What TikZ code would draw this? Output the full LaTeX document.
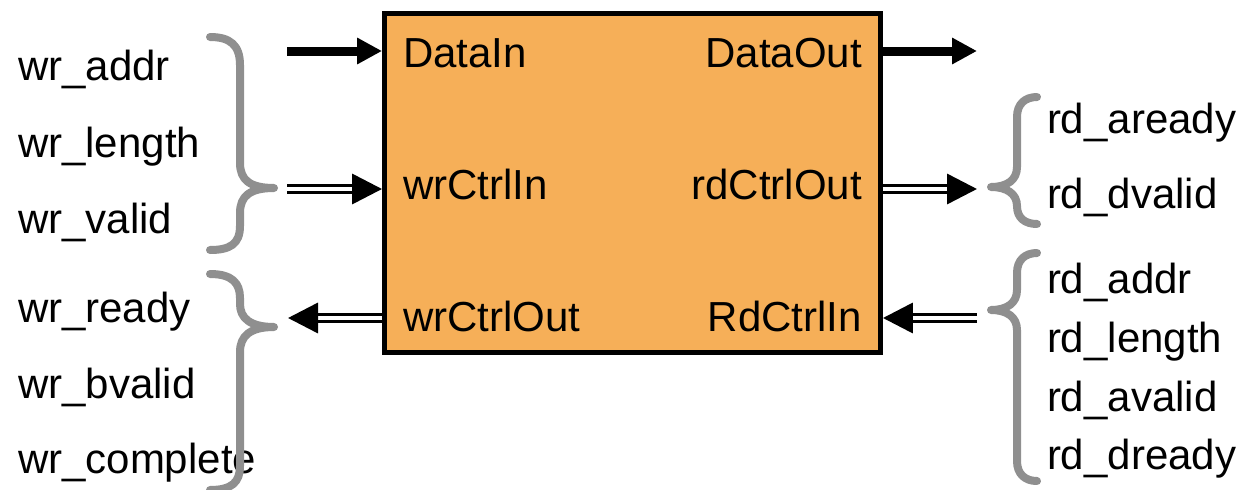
\documentclass[tikz,border=0pt]{standalone}
\usepackage{fontspec}
\setmainfont{Liberation Sans}
\usetikzlibrary{arrows.meta}
\definecolor{blockfill}{HTML}{F6AF58}
\definecolor{bracegray}{HTML}{8F8F8F}
\begin{document}
\begin{tikzpicture}[x=1pt,y=-1pt,
  every node/.style={inner sep=0pt, outer sep=0pt, font=\fontsize{42}{50}\selectfont},
  lbl/.style={anchor=base west},
  rlbl/.style={anchor=base east},
  block/.style={draw=black, line width=4.5pt, fill=blockfill, outer sep=2.25pt,
    minimum width=496.4pt, minimum height=339.4pt},
  busarrow/.style={draw=black, line width=9pt, -{Triangle[length=25pt,width=25pt]}},
  ctrlarrow/.style={draw=black, double=white, line width=3.5pt, double distance=3.5pt,
    -{Triangle[length=30pt,width=30pt]}},
  bracket/.style={draw=bracegray, line width=8pt, line cap=round, line join=round}
]
\useasboundingbox (0,0) rectangle (1243,490);

% the interface block
\node[block] (blk) at (632.5,183) {};

% port names inside the block
\node[lbl]  (pDataIn)    at (403,67)  {DataIn};
\node[lbl]  (pWrCtrlIn)  at (403,199) {wrCtrlIn};
\node[lbl]  (pWrCtrlOut) at (403,331) {wrCtrlOut};
\node[rlbl] (pDataOut)   at (862,67)  {DataOut};
\node[rlbl] (pRdCtrlOut) at (862,199) {rdCtrlOut};
\node[rlbl] (pRdCtrlIn)  at (862,331) {RdCtrlIn};

% write-side signals
\node[lbl] (sWrAddr)     at (18,80)  {wr\_addr};
\node[lbl] (sWrLength)   at (18,157) {wr\_length};
\node[lbl] (sWrValid)    at (18,233) {wr\_valid};
\node[lbl] (sWrReady)    at (18,322) {wr\_ready};
\node[lbl] (sWrBvalid)   at (18,398) {wr\_bvalid};
\node[lbl] (sWrComplete) at (18,473) {wr\_complete};

% read-side signals
\node[lbl] (sRdAready) at (1047,133) {rd\_aready};
\node[lbl] (sRdDvalid) at (1047,208) {rd\_dvalid};
\node[lbl] (sRdAddr)   at (1047,293) {rd\_addr};
\node[lbl] (sRdLength) at (1047,352) {rd\_length};
\node[lbl] (sRdAvalid) at (1047,411) {rd\_avalid};
\node[lbl] (sRdDready) at (1047,469) {rd\_dready};

% free ends of the port arrows
\coordinate (dinS)  at (287,51);
\coordinate (doutE) at (977,51);
\coordinate (wciS)  at (287,189);
\coordinate (rcoE)  at (977,189);
\coordinate (wcoE)  at (288,318);
\coordinate (rciS)  at (977,318);

% data buses
\draw[busarrow] (dinS) -- (dinS -| blk.west);
\draw[busarrow] (doutE -| blk.east) -- (doutE);

% control bundles
\draw[ctrlarrow] (wciS) -- (wciS -| blk.west);
\draw[ctrlarrow] (rcoE -| blk.east) -- (rcoE);
\draw[ctrlarrow] (wcoE -| blk.west) -- (wcoE);
\draw[ctrlarrow] (rciS) -- (rciS -| blk.east);

% braces grouping the write signals
\draw[bracket] (210,37) .. controls (230,37) and (240,45) .. (240,65) -- (240,163)
  .. controls (240,180) and (250,188) .. (274,188)
  .. controls (250,188) and (240,196) .. (240,213) -- (240,226)
  .. controls (240,244) and (230,250) .. (210,250);
\draw[bracket] (210,274) .. controls (232,274) and (240,283) .. (240,298) -- (240,304)
  .. controls (240,318) and (250,327) .. (274,327)
  .. controls (250,327) and (240,336) .. (240,352) -- (240,466)
  .. controls (240,482) and (232,490) .. (210,490);

% braces grouping the read signals
\draw[bracket] (1037,97) .. controls (1025,97) and (1017,104) .. (1017,117) -- (1017,167)
  .. controls (1017,180) and (1007,187) .. (991,187)
  .. controls (1007,187) and (1017,194) .. (1017,206)
  .. controls (1017,218) and (1025,224) .. (1037,224);
\draw[bracket] (1037,253) .. controls (1025,253) and (1017,260) .. (1017,273) -- (1017,290)
  .. controls (1017,303) and (1007,310) .. (991,310)
  .. controls (1007,310) and (1017,317) .. (1017,330) -- (1017,461)
  .. controls (1017,474) and (1025,481) .. (1037,481);
\end{tikzpicture}
\end{document}
